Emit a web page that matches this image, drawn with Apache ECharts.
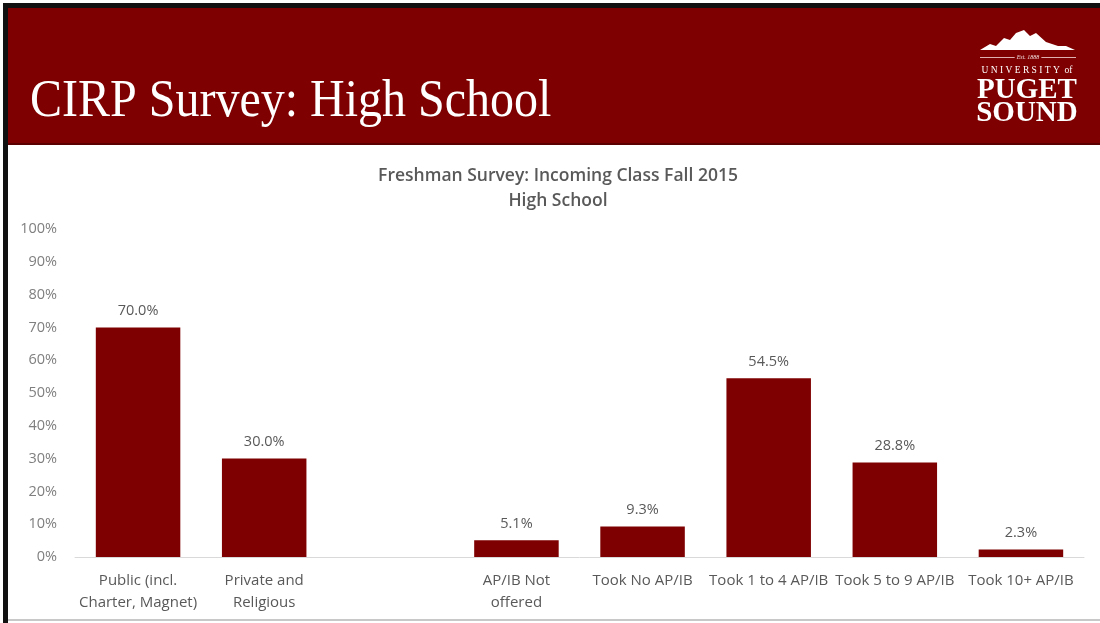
<!DOCTYPE html>
<html>
<head>
<meta charset="utf-8">
<script src="https://cdn.jsdelivr.net/npm/echarts@6/dist/echarts.min.js"></script>
<style>
html,body{margin:0;padding:0;background:#fff;}
#main{width:1100px;height:623px;}
</style>
</head>
<body>
<div id="main"></div>
<script>
const categories = ['Public (incl.\nCharter, Magnet)', 'Private and\nReligious', '', 'AP/IB Not\noffered', 'Took No AP/IB', 'Took 1 to 4 AP/IB', 'Took 5 to 9 AP/IB', 'Took 10+ AP/IB'];
const percentValues = [70.0, 30.0, null, 5.1, 9.3, 54.5, 28.8, 2.3];
const yTickValues = [0, 10, 20, 30, 40, 50, 60, 70, 80, 90, 100];
const slideTitle = 'CIRP Survey: High School';
const chartTitleLines = ['Freshman Survey: Incoming Class Fall 2015', 'High School'];

const RED = '#7f0000';
const chart = echarts.init(document.getElementById('main'), null, {renderer: 'canvas'});

const option = {
  backgroundColor: '#ffffff',
  animation: false,
  title: {
    text: chartTitleLines.join('\n'),
    left: 553,
    textAlign: 'center',
    top: 159,
    textStyle: {
      fontFamily: 'Open Sans',
      fontSize: 17.5,
      fontWeight: 600,
      color: '#595959',
      lineHeight: 25
    }
  },
  grid: {left: 75, right: 16, top: 229, bottom: 66},
  xAxis: {
    type: 'category',
    data: categories,
    axisLine: {lineStyle: {color: '#d9d9d9', width: 1}},
    axisTick: {show: false},
    axisLabel: {
      interval: 0,
      margin: 13,
      fontFamily: 'Open Sans',
      fontSize: 15,
      color: '#595959',
      lineHeight: 22
    }
  },
  yAxis: {
    type: 'value',
    min: yTickValues[0],
    max: yTickValues[yTickValues.length - 1],
    interval: 10,
    splitLine: {show: false},
    axisLine: {show: false},
    axisTick: {show: false},
    axisLabel: {
      margin: 18,
      fontFamily: 'Open Sans',
      fontSize: 14.5,
      color: '#7f7f7f',
      formatter: v => v + '%'
    }
  },
  series: [{
    type: 'bar',
    data: percentValues,
    barWidth: '67%',
    itemStyle: {color: RED},
    label: {
      show: true,
      position: 'top',
      distance: 9,
      fontFamily: 'Open Sans',
      fontSize: 14.5,
      color: '#595959',
      formatter: p => p.value == null ? '' : p.value.toFixed(1) + '%'
    }
  }],
  graphic: [
    {type: 'rect', shape: {x: 3, y: 3, width: 1097, height: 5}, style: {fill: '#111'}, z: 100},
    {type: 'rect', shape: {x: 3, y: 3, width: 5, height: 620}, style: {fill: '#111'}, z: 100},
    {type: 'rect', shape: {x: 8, y: 8, width: 1092, height: 137}, style: {fill: RED}, z: 90},
    {type: 'rect', shape: {x: 8, y: 143, width: 1092, height: 2}, style: {fill: '#5a0000'}, z: 91},
    {type: 'rect', shape: {x: 8, y: 619, width: 1092, height: 2}, style: {fill: '#c8c8c8'}, z: 91},
    {type: 'text', x: 30, y: 129, scaleY: 1.12, z: 95,
      style: {text: slideTitle, fill: '#ffffff', font: '48px "Liberation Serif"', textVerticalAlign: 'bottom'}},
    // logo
    {type: 'polygon', z: 95, shape: {points: [[980,50],[990,44],[996,46],[1004,38],[1010,40],[1016,33],[1024,30],[1030,36],[1036,33],[1046,42],[1058,46],[1066,46],[1075,50]]},
      style: {fill: '#ffffff'}},
    {type: 'rect', z: 95, shape: {x: 980, y: 57, width: 96, height: 1}, style: {fill: '#e0b0b0'}},
    {type: 'text', x: 1028, y: 57, z: 96, style: {text: 'Est. 1888', fill: '#f3dede', font: 'italic 6px "Liberation Serif"', textAlign: 'center', textVerticalAlign: 'middle', backgroundColor: RED, padding: [0, 2]}},
    {type: 'text', x: 1027, y: 70, z: 95, style: {text: 'U N I V E R S I T Y  of', fill: '#ffffff', font: '9.5px "Liberation Serif"', textAlign: 'center', textVerticalAlign: 'middle'}},
    {type: 'text', x: 1027, y: 91, z: 95, style: {text: 'PUGET', fill: '#ffffff', font: 'bold 29px "Liberation Serif"', textAlign: 'center', textVerticalAlign: 'middle'}},
    {type: 'text', x: 1027, y: 114, z: 95, style: {text: 'SOUND', fill: '#ffffff', font: 'bold 29px "Liberation Serif"', textAlign: 'center', textVerticalAlign: 'middle'}}
  ]
};
chart.setOption(option);
</script>
</body>
</html>
